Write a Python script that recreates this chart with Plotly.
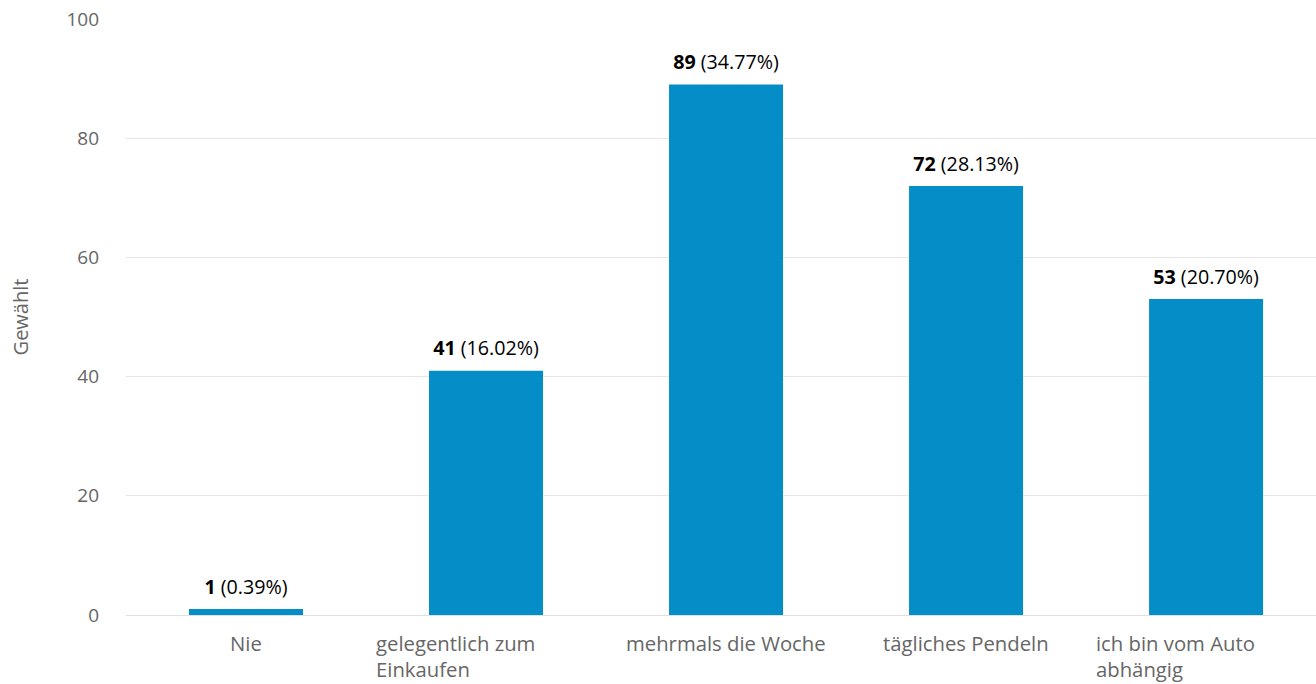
import plotly.graph_objects as go

categories = ["Nie", "gelegentlich zum<br>Einkaufen", "mehrmals die Woche", "tägliches Pendeln", "ich bin vom Auto<br>abhängig"]
counts = [1, 41, 89, 72, 53]
percents = ["0.39%", "16.02%", "34.77%", "28.13%", "20.70%"]
y_ticks = [0, 20, 40, 60, 80, 100]

# label placement (styling only)
label_anchor = ["center", "left", "center", "center", "left"]
label_shift = [0, -112, 0, 0, -112]

x_idx = list(range(len(categories)))

fig = go.Figure()
fig.add_trace(go.Bar(
    x=x_idx,
    y=counts,
    width=0.475,
    marker=dict(color="#058DC7", line=dict(width=0)),
    hoverinfo="skip",
))
fig.add_trace(go.Scatter(
    x=x_idx,
    y=counts,
    customdata=percents,
    mode="markers+text",
    marker=dict(size=15, opacity=0),
    texttemplate="<b>%{y}</b> (%{customdata})",
    textposition="top center",
    cliponaxis=False,
    textfont=dict(family="Open Sans", size=19.7, color="#000000"),
    hoverinfo="skip",
))

for i, (cat, anc, sh) in enumerate(zip(categories, label_anchor, label_shift)):
    fig.add_annotation(
        x=i, y=0, xref="x", yref="y",
        text=cat, showarrow=False,
        xanchor=anc, yanchor="top",
        align="left", xshift=sh, yshift=-12,
        font=dict(family="Open Sans", size=20.3, color="#666666"),
    )

fig.update_layout(
    width=1316, height=684,
    margin=dict(l=126, r=0, t=19, b=69),
    paper_bgcolor="white", plot_bgcolor="white",
    showlegend=False,
    font=dict(family="Open Sans", color="#666666"),
    xaxis=dict(
        range=[-0.5, 4.458], showticklabels=False, showgrid=False,
        zeroline=False, showline=True, linecolor="#e0e0e0", linewidth=1,
        fixedrange=True, automargin=False,
    ),
    yaxis=dict(
        range=[0, 100], tickvals=y_ticks, showgrid=True, gridcolor="#e6e6e6",
        gridwidth=1, zeroline=False, showline=False,
        tickfont=dict(family="Open Sans", size=19, color="#666666"),
        ticklabelstandoff=26,
        title=dict(text="Gewählt", font=dict(family="Open Sans", size=20, color="#666666"), standoff=32),
        fixedrange=True, automargin=False,
    ),
)

fig.write_html(
    "out.html",
    config={"displayModeBar": False},
    post_script="document.body.style.margin='0';document.body.style.padding='0';",
)
